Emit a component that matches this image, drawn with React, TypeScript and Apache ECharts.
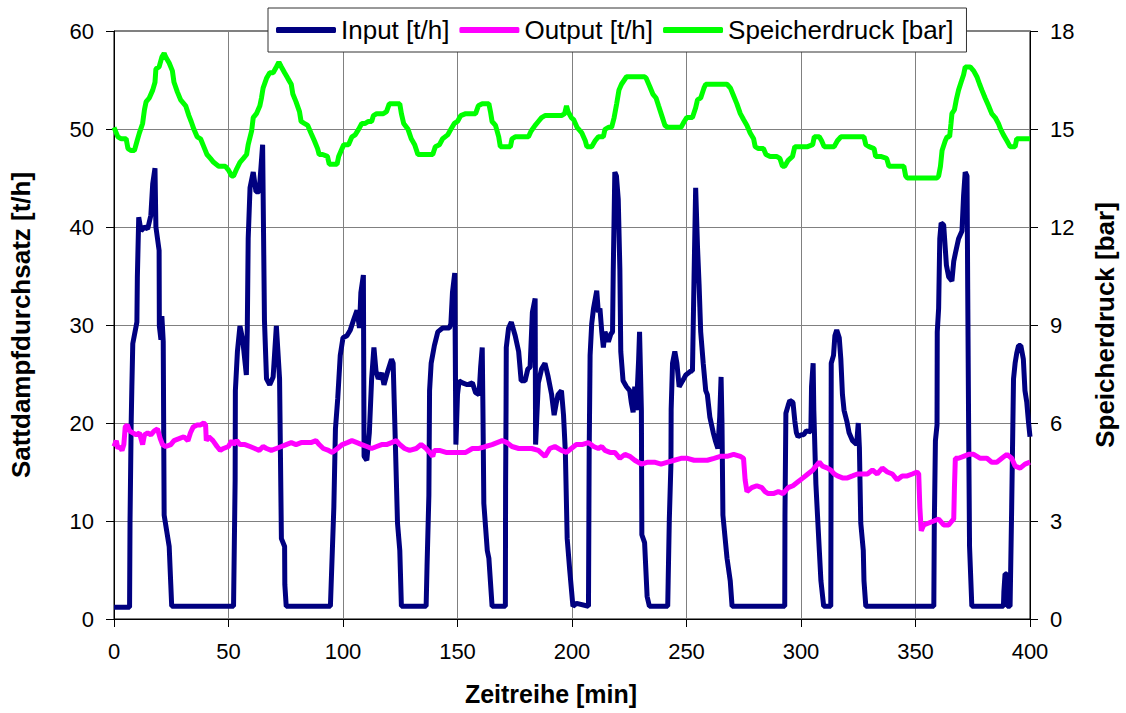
import React, { useEffect, useRef } from "react";
import * as echarts from "echarts";

// Zeitreihe [min], Sattdampfdurchsatz Input [t/h]
const inputFlow: [number, number][] = [
  [0, 1.2], [6.8, 1.2], [7.0, 10], [7.5, 20], [7.8, 23.7], [8.2, 28.1], [10, 30.3], [10.2, 34.9], [10.8, 41],
  [11.8, 39.6], [13.3, 40], [14.7, 39.8], [16.1, 41.2], [16.9, 44.4], [17.9, 46], [18.3, 40], [19.7, 37.6],
  [19.8, 29.9], [20.5, 28.5], [20.9, 30.9], [21.5, 28.3], [21.9, 10.6], [24.1, 7.4], [24.8, 3.5], [25.2, 1.3],
  [52.2, 1.3], [52.9, 14.2], [53, 23.3], [53.9, 27.3], [55, 29.9], [56.2, 28.5], [57.8, 24.9], [58.2, 29.5],
  [58.6, 38.8], [59.4, 44], [60.8, 45.6], [62, 43.6], [63.4, 43.6], [64.9, 48.4], [65.7, 30.5], [66.6, 24.5],
  [68, 23.9], [69.5, 24.7], [70.9, 29.9], [72.3, 24.5], [73.1, 8.2], [74.5, 7.4], [74.6, 3.5], [75.2, 1.3],
  [94.5, 1.3], [96, 11.4], [96.7, 19.4], [97.7, 22.5], [98.8, 26.9], [100, 28.7], [101.7, 28.9], [103.2, 29.5],
  [104.6, 30.5], [106.1, 31.5], [107.2, 29.7], [107.8, 33.3], [108.9, 35.1], [109.2, 16.6], [110.4, 16.2],
  [111.5, 19], [112.5, 24.5], [113.5, 27.7], [114.4, 25.3], [115.4, 24.5], [116.9, 25.1], [117.9, 23.9],
  [119.3, 25.1], [121.2, 26.5], [121.9, 26.1], [122.6, 20.2], [123.8, 9.8], [124.8, 7], [125.5, 1.3],
  [136.3, 1.3], [136.7, 5.4], [137.5, 12.6], [137.8, 23.3], [138.5, 26.1], [139.9, 27.9], [141.4, 29.3],
  [143.5, 29.7], [146.4, 29.7], [147.1, 30.1], [147.8, 33.3], [148.8, 35.3], [149.3, 17.8], [150, 22.9],
  [150.7, 24.3], [152.2, 24.1], [154.3, 23.9], [156.5, 24.1], [157.9, 23.1], [159.4, 22.9], [160.1, 25.7],
  [160.8, 27.7], [161.1, 21.5], [161.5, 11.8], [163, 7], [163.7, 6.2], [165.1, 1.3], [170.9, 1.3], [171, 13.4],
  [171.2, 21.4], [171.3, 27.7], [172.3, 29.7], [173.5, 30.3], [175.2, 28.9], [176.7, 27.3], [177.8, 24.3],
  [179.5, 24.3], [180.7, 25.5], [181.7, 25.7], [182.7, 31.3], [183.9, 32.7], [184.1, 17.8], [185.3, 24.1],
  [186.7, 25.5], [188.2, 26.1], [189.6, 24.7], [191.1, 22.9], [192.2, 20.8], [193.2, 22.1], [193.9, 22.9],
  [195.4, 23.3], [196.3, 20.8], [197.1, 17], [197.9, 8.2], [199, 5], [200.4, 1.3], [202, 1.6], [207.2, 1.3],
  [207.5, 17], [207.9, 26.9], [208.6, 30.1], [209.4, 31.7], [210.8, 33.5], [211.5, 31.3], [212.2, 31.7],
  [213, 29.3], [213.7, 27.7], [214.4, 29.3], [215.9, 28.3], [217, 29.1], [217.7, 29.3], [218, 35.3],
  [218.7, 45.6], [219.4, 45.2], [220.2, 42.8], [220.9, 35.7], [221.3, 27.3], [222.3, 24.3], [223.8, 23.7],
  [225.2, 23.3], [225.9, 22.1], [226.7, 21.1], [227.4, 23.7], [228.1, 21.3], [229.1, 26.5], [229.5, 29.3],
  [230.3, 21.3], [230.5, 8.6], [231.7, 7.8], [232.8, 2.3], [233.8, 1.3], [241.8, 1.3], [242, 3.9],
  [242.5, 10.2], [243.2, 15.8], [243.3, 21.4], [243.9, 26.1], [244.9, 27.3], [245.8, 26.1], [246.8, 23.7],
  [248.3, 24.3], [249.7, 24.9], [251.9, 25.3], [252.6, 25.3], [253.3, 34.9], [254, 44], [254.8, 38],
  [255.5, 34.1], [256.2, 29.3], [257.3, 26.1], [258.4, 23.3], [259.1, 22.9], [260.2, 20.6], [261.7, 19],
  [262.6, 18.2], [263.7, 17.4], [264.5, 20.6], [265.1, 24.7], [265.5, 20], [265.9, 10.6], [267.7, 6.2],
  [269.1, 3.9], [269.9, 1.3], [292.9, 1.3], [293, 10.6], [293.4, 21], [294.4, 21.8], [295.1, 22.3],
  [296.5, 22.1], [297.3, 20.2], [298, 19], [298.7, 18.6], [300.1, 18.8], [301.2, 18.8], [302.3, 19.2],
  [304.3, 19.1], [304.6, 23.7], [305.3, 26.1], [305.6, 21.3], [306.5, 13.8], [307.2, 10.6], [308, 7],
  [308.7, 3.9], [309.9, 1.3], [313, 1.3], [313.1, 11.4], [313.2, 26.1], [314.2, 26.9], [314.8, 28.9],
  [315.6, 29.5], [316.7, 28.7], [317.4, 26.5], [318.1, 22.9], [318.8, 21.3], [320, 20.2], [321, 19],
  [322.5, 18.2], [324.3, 17.8], [325, 20], [325.5, 17.5], [326.1, 9.8], [327.2, 7], [327.5, 3.9], [328.3, 1.3],
  [358, 1.3], [358.2, 9.4], [358.7, 18.2], [359.4, 19.8], [359.5, 29.3], [360.1, 31.7], [360.6, 38.8],
  [361.2, 40.4], [362.3, 40.2], [363.5, 36.1], [364.5, 34.9], [365.9, 34.5], [366.7, 36.5], [367.4, 37.3],
  [368.8, 38.8], [370.3, 39.6], [371, 43.2], [371.7, 45.6], [372.5, 45.2], [372.8, 33.7], [373.2, 19.8],
  [373.6, 7.4], [374.6, 1.3], [388.4, 1.3], [388.6, 2.8], [389.1, 4.6], [389.9, 4.6], [390.1, 1.3],
  [391.3, 1.3], [392, 11.4], [392.8, 24.5], [393.5, 26.1], [394.2, 27.1], [395, 27.9], [396, 27.9],
  [397.1, 26.5], [397.8, 23.3], [398.6, 22.1], [399.3, 20.2], [400, 18.6],
];

// Output [t/h]
const outputFlow: [number, number][] = [
  [0, 17.6], [1, 18.2], [1.7, 17.4], [2.5, 17.6], [3.5, 17.2], [4.3, 17.8], [4.9, 19.6], [5.8, 19.8],
  [6.8, 19.2], [8.2, 19], [9.7, 18.8], [11.1, 19], [12.5, 17.8], [13.3, 18.8], [14.7, 19], [16.1, 18.8],
  [17.6, 19.2], [19, 19.4], [20.2, 18.4], [21.2, 17.8], [22.6, 17.6], [24.8, 17.8], [26.2, 18.2], [28.4, 18.4],
  [30.5, 18.6], [32.3, 18.2], [33.4, 19], [34.6, 19.6], [36.3, 19.8], [37.8, 19.8], [39.2, 20], [40, 19.8],
  [40.3, 18.2], [41.4, 18.6], [43.2, 18.2], [45, 17.6], [46.4, 17.2], [47.8, 17.4], [50, 17.6], [51.4, 18.2],
  [52.2, 17.8], [53.6, 18.2], [55, 17.8], [57.2, 17.8], [59.4, 17.6], [61.5, 17.4], [63.4, 17.2], [65.1, 17.6],
  [66.6, 17.4], [68.7, 17.2], [70.9, 17.4], [73.1, 17.6], [75.2, 17.8], [77.4, 18], [79.5, 17.8], [81.7, 18],
  [83.9, 18], [86, 18], [88.2, 18.2], [89.6, 17.8], [91.4, 17.4], [93.7, 17.2], [95.4, 17], [97.6, 17.4],
  [99.7, 17.8], [101.9, 18], [103.9, 18.2], [106.1, 18], [108.2, 17.8], [110.4, 17.6], [112.5, 17.4],
  [114.7, 17.6], [116.9, 17.8], [119, 17.8], [121.2, 18], [123.3, 18.2], [124.8, 17.8], [126.9, 17.4],
  [129.1, 17.2], [132, 17.4], [134.1, 17.8], [136.3, 17.4], [137.8, 17], [139.2, 16.6], [139.9, 17.2],
  [142.1, 17.2], [145, 17], [147.8, 17], [150.7, 17], [153.6, 17], [156.5, 17.4], [159.4, 17.4], [162.2, 17.6],
  [165.1, 17.8], [167.3, 18], [169.5, 18.2], [171.6, 18], [173.8, 17.6], [176.7, 17.4], [179.5, 17.4],
  [182.4, 17.4], [185.3, 17.2], [188.2, 16.6], [190.3, 17.4], [192.5, 17.6], [195.4, 17.2], [197.6, 17],
  [199.7, 17.4], [201.9, 17.8], [204.3, 17.8], [207.2, 18], [209.4, 17.6], [211.5, 17.4], [213, 17.6],
  [214.4, 17.2], [216.6, 17], [218.7, 17], [220.9, 16.4], [223.1, 16.8], [225.2, 16.6], [227.4, 16.2],
  [230.3, 15.8], [233.1, 16], [236, 16], [238.9, 15.8], [241.8, 16], [244.7, 16.2], [247.6, 16.4],
  [250.4, 16.4], [253.3, 16.2], [256.2, 16.2], [259.1, 16.2], [262, 16.4], [264.8, 16.6], [267.7, 16.6],
  [270.6, 16.8], [273.5, 16.6], [274.9, 16.4], [275.6, 14.2], [276.4, 13], [278.5, 13.4], [280.7, 13.6],
  [282.9, 13.4], [284.3, 13], [285.7, 12.8], [287.9, 12.8], [290.1, 13], [292.2, 12.8], [294.4, 13.4],
  [296.5, 13.6], [298.7, 14], [300.9, 14.4], [303, 14.8], [305.2, 15.2], [306.5, 15.6], [308, 16],
  [309.4, 15.6], [311.6, 15.4], [313, 15.2], [314.5, 14.8], [315.9, 14.6], [318.1, 14.4], [320.3, 14.4],
  [322.5, 14.6], [324.6, 14.8], [326.8, 14.8], [329, 14.8], [331.2, 15.2], [333.3, 14.8], [335.5, 15.4],
  [337.7, 15], [339.9, 14.8], [342, 14.2], [344.2, 14.6], [346.4, 14.6], [348.6, 14.8], [350.7, 15],
  [351.4, 14.8], [351.9, 11.4], [352.5, 9], [353.6, 9.6], [355.8, 9.8], [358, 10], [360.1, 10.2],
  [362.3, 9.6], [364.5, 9.6], [365.9, 10], [366.7, 10.2], [367, 13.4], [367.4, 16.4], [368.8, 16.4],
  [371, 16.6], [373.2, 16.8], [375.4, 16.8], [378.3, 16.4], [381.2, 16.4], [383.3, 16], [385.5, 16],
  [387.7, 16.4], [389.9, 16.8], [392, 16.4], [393.5, 15.6], [395.7, 15.4], [397.8, 15.8], [400, 16],
];

// Speicherdruck [bar]
const storagePressure: [number, number][] = [
  [0, 15.05], [1.7, 14.76], [3.2, 14.7], [5.3, 14.7], [6.1, 14.4], [7.5, 14.34], [8.9, 14.34], [10.1, 14.64],
  [11.1, 14.88], [12.5, 15.17], [13.3, 15.59], [14, 15.83], [15.4, 15.95], [16.9, 16.19], [17.9, 16.43],
  [18.3, 16.84], [19.7, 16.9], [20.9, 17.2], [21.9, 17.32], [22.6, 17.2], [24.1, 17.02], [25.5, 16.78],
  [26.2, 16.43], [27.7, 16.13], [29.1, 15.89], [31.3, 15.71], [32.7, 15.41], [33.7, 15.23], [34.9, 14.99],
  [36.3, 14.76], [37.8, 14.7], [39.2, 14.46], [40.6, 14.22], [42.1, 14.1], [43.5, 13.98], [45.7, 13.86],
  [48.6, 13.86], [50, 13.74], [51.4, 13.56], [52.2, 13.56], [53.3, 13.74], [55, 13.98], [56.5, 14.1],
  [57.9, 14.22], [58.6, 14.52], [60.1, 14.94], [60.8, 15.35], [62.2, 15.47], [63.7, 15.71], [64.4, 15.95],
  [65.1, 16.25], [66.6, 16.55], [68, 16.72], [69.5, 16.72], [70.9, 16.9], [72, 17.05], [73.1, 16.9],
  [74.5, 16.72], [75.9, 16.55], [77.4, 16.37], [78.1, 16.07], [79.5, 15.83], [81, 15.53], [81.7, 15.23],
  [83.1, 15.17], [84.6, 15.11], [86, 14.88], [87.5, 14.64], [88.9, 14.4], [89.6, 14.22], [91.1, 14.22],
  [93.2, 14.16], [94, 13.92], [95.4, 13.92], [97.4, 13.92], [98.1, 14.16], [100.3, 14.52], [102.4, 14.52],
  [103.9, 14.76], [105.3, 14.82], [106.8, 14.99], [108.2, 15.17], [109.7, 15.17], [111.1, 15.23],
  [112.5, 15.23], [113.3, 15.41], [114.7, 15.47], [117.6, 15.47], [119, 15.53], [120.2, 15.77], [121.2, 15.77],
  [124.8, 15.77], [125.5, 15.47], [126.5, 15.17], [128.4, 14.99], [129.8, 14.7], [131.3, 14.52], [132.7, 14.22],
  [134.9, 14.22], [137.8, 14.22], [139.2, 14.22], [140.3, 14.46], [142.1, 14.52], [143.5, 14.7], [145.7, 14.82],
  [147.1, 14.99], [148.6, 15.17], [150, 15.23], [151.4, 15.41], [153.6, 15.47], [157.9, 15.47], [159.1, 15.71],
  [160.8, 15.77], [163.7, 15.77], [164.4, 15.53], [165.1, 15.23], [166.6, 15.11], [168, 14.76], [168.7, 14.46],
  [170.9, 14.46], [173.1, 14.46], [173.8, 14.7], [175.2, 14.76], [177.4, 14.76], [181, 14.76], [182.1, 14.93],
  [183.9, 15.11], [185.3, 15.23], [186.7, 15.35], [188.2, 15.41], [190.3, 15.41], [192.5, 15.41],
  [195.4, 15.41], [196.8, 15.47], [197.6, 15.71], [198.3, 15.53], [199.7, 15.35], [200.7, 15.29],
  [202.2, 15.05], [204.3, 14.88], [205.8, 14.64], [206.5, 14.46], [208.6, 14.46], [210.1, 14.64],
  [211.5, 14.76], [213.7, 14.76], [214.4, 14.99], [215.9, 15.05], [217.3, 15.05], [218.4, 15.35],
  [219.5, 15.77], [220.5, 16.19], [221.6, 16.37], [223.8, 16.6], [226.7, 16.6], [231.7, 16.6], [232.4, 16.55],
  [233.9, 16.31], [235.3, 16.07], [236.7, 15.95], [237.8, 15.71], [239.2, 15.41], [240.6, 15.11],
  [241.8, 15.05], [244.7, 15.05], [247.6, 15.05], [249, 15.23], [250.1, 15.35], [252.6, 15.35], [254, 15.65],
  [254.8, 15.89], [256.2, 15.95], [257.6, 16.25], [258.4, 16.37], [262, 16.37], [267.7, 16.37], [269.2, 16.25],
  [270.6, 16.01], [272, 15.77], [273.5, 15.47], [274.9, 15.29], [276.4, 15.11], [277.8, 14.88], [279.3, 14.7],
  [280, 14.46], [281.4, 14.4], [283.6, 14.4], [284.7, 14.22], [286.5, 14.16], [289.3, 14.16], [290.8, 14.1],
  [291.9, 13.86], [292.9, 13.86], [294.4, 14.04], [296.3, 14.16], [297.3, 14.46], [299.4, 14.46],
  [302.9, 14.46], [305.1, 14.52], [305.8, 14.76], [308, 14.76], [309, 14.64], [310.1, 14.46], [314.5, 14.46],
  [315.9, 14.64], [317.4, 14.76], [321.7, 14.76], [327.5, 14.76], [328.3, 14.52], [329.7, 14.46],
  [331.9, 14.4], [332.6, 14.16], [334.8, 14.16], [337.4, 14.1], [338.4, 13.86], [342, 13.86], [344.9, 13.86],
  [345.7, 13.56], [346.4, 13.5], [352.2, 13.5], [359.4, 13.5], [360.1, 13.56], [360.9, 13.86], [361.6, 14.34],
  [363, 14.64], [363.8, 14.76], [364.9, 14.76], [365.5, 15.17], [365.9, 15.47], [367, 15.59], [367.8, 15.89],
  [368.8, 16.19], [369.9, 16.43], [371, 16.66], [371.7, 16.9], [373.9, 16.9], [375.4, 16.78], [376.8, 16.6],
  [378, 16.37], [379, 16.19], [380.4, 15.95], [381.9, 15.71], [383.3, 15.47], [384.8, 15.35], [386.2, 15.17],
  [387.2, 14.99], [388.4, 14.82], [389.9, 14.64], [391.3, 14.46], [393.5, 14.46], [394.2, 14.7],
  [395.7, 14.7], [400, 14.7],
];

const seriesNames = ["Input [t/h]", "Output [t/h]", "Speicherdruck [bar]"];
const seriesColors = ["#000080", "#FF00FF", "#00FF00"];
const xAxisTitle = "Zeitreihe [min]";
const leftAxisTitle = "Sattdampfdurchsatz [t/h]";
const rightAxisTitle = "Speicherdruck [bar]";

const FONT = "'Liberation Sans', Arial, sans-serif";

export default function App() {
  const ref = useRef<HTMLDivElement>(null);

  useEffect(() => {
    if (!ref.current) return;
    const chart = echarts.init(ref.current, undefined, { renderer: "svg" });
    const axisCommon = {
      axisLine: { show: true, lineStyle: { color: "#000", width: 1 } },
      axisTick: { show: true, inside: false, length: 8, lineStyle: { color: "#000", width: 1 } },
      axisLabel: { color: "#000", fontSize: 22, fontFamily: FONT, margin: 20 },
      nameTextStyle: { color: "#000", fontSize: 26, fontWeight: "bold", fontFamily: FONT },
    };
    chart.setOption({
      animation: false,
      backgroundColor: "#fff",
      textStyle: { fontFamily: FONT },
      grid: {
        left: 113,
        top: 31,
        right: 93,
        bottom: 94,
        show: true,
        borderColor: "#000",
        borderWidth: 1,
        backgroundColor: "transparent",
      },
      legend: {
        data: seriesNames,
        left: 268,
        top: 8,
        orient: "horizontal",
        icon: "roundRect",
        itemWidth: 60,
        itemHeight: 6,
        itemGap: 10,
        padding: [9, 13, 9, 8],
        backgroundColor: "#fff",
        borderColor: "#333",
        borderWidth: 1,
        borderRadius: 0,
        textStyle: { color: "#000", fontSize: 26, fontFamily: FONT },
        z: 10,
      },
      xAxis: {
        type: "value",
        min: 0,
        max: 400,
        interval: 50,
        ...axisCommon,
        axisLabel: { ...axisCommon.axisLabel, margin: 21 },
        splitLine: { show: true, lineStyle: { color: "#808080", width: 1 } },
        name: xAxisTitle,
        nameLocation: "middle",
        nameGap: 62,
        nameTextStyle: { ...axisCommon.nameTextStyle, fontSize: 25, padding: [0, 42, 0, 0] },
      },
      yAxis: [
        {
          type: "value",
          min: 0,
          max: 60,
          interval: 10,
          position: "left",
          ...axisCommon,
          splitLine: { show: true, lineStyle: { color: "#808080", width: 1 } },
          name: leftAxisTitle,
          nameLocation: "middle",
          nameRotate: 90,
          nameGap: 80,
        },
        {
          type: "value",
          min: 0,
          max: 18,
          interval: 3,
          position: "right",
          ...axisCommon,
          splitLine: { show: false },
          name: rightAxisTitle,
          nameLocation: "middle",
          nameRotate: 90,
          nameGap: 62,
        },
      ],
      series: [
        {
          name: seriesNames[0],
          type: "line",
          data: inputFlow,
          yAxisIndex: 0,
          symbol: "none",
          color: seriesColors[0],
          lineStyle: { width: 5, color: seriesColors[0] },
          z: 2,
        },
        {
          name: seriesNames[1],
          type: "line",
          data: outputFlow,
          yAxisIndex: 0,
          symbol: "none",
          color: seriesColors[1],
          lineStyle: { width: 5, color: seriesColors[1] },
          z: 3,
        },
        {
          name: seriesNames[2],
          type: "line",
          data: storagePressure,
          yAxisIndex: 1,
          symbol: "none",
          color: seriesColors[2],
          lineStyle: { width: 5, color: seriesColors[2] },
          z: 4,
        },
      ],
    });
    return () => chart.dispose();
  }, []);

  return (
    <div
      ref={ref}
      style={{ position: "absolute", left: 0, top: 0, width: 1126, height: 713 }}
    />
  );
}
